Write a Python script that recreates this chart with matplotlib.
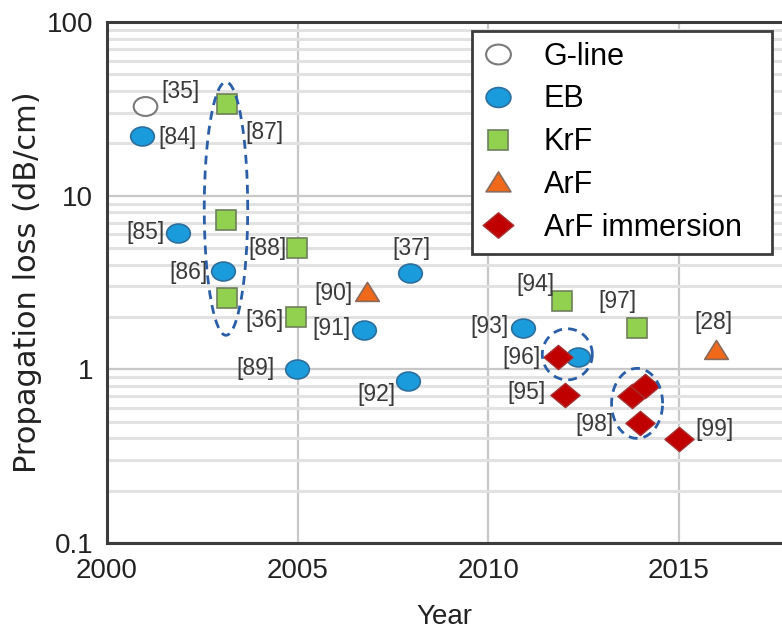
# propagation loss vs year, markers grouped by lithography type

import numpy as np
import matplotlib.pyplot as plt
from matplotlib.path import Path
from matplotlib.ticker import FixedLocator, FixedFormatter, LogLocator, NullFormatter

# values
gline_year = [2001.0]
gline_loss = [32.7]
gline_ref = ["[35]"]

eb_year = [2000.92, 2001.86, 2003.04, 2004.98, 2006.74, 2007.95, 2007.9, 2010.91, 2012.35]
eb_loss = [22.0, 6.1, 3.66, 1.01, 1.69, 3.6, 0.86, 1.74, 1.17]
eb_ref = ["[84]", "[85]", "[86]", "[89]", "[91]", "[37]", "[92]", "[93]", ""]

krf_year = [2003.15, 2003.12, 2003.15, 2004.98, 2004.96, 2011.93, 2013.9]
krf_loss = [33.6, 7.2, 2.59, 4.97, 2.01, 2.46, 1.74]
krf_ref = ["[87]", "", "", "[88]", "[36]", "[94]", "[97]"]

arf_year = [2006.82, 2015.97]
arf_loss = [2.77, 1.30]
arf_ref = ["[90]", "[28]"]

imm_year = [2011.83, 2012.01, 2013.77, 2014.11, 2013.98, 2015.0]
imm_loss = [1.18, 0.713, 0.705, 0.804, 0.492, 0.398]
imm_ref = ["[96]", "[95]", "", "", "[98]", "[99]"]

y_ticks = [0.1, 1, 10, 100]
y_ticklabels = ["0.1", "1", "10", "100"]
x_ticks = [2000, 2005, 2010, 2015]

# label offsets in pixels (right, down) from the marker
label_offset = {
    "[35]": (35, -15), "[84]": (35, 1), "[87]": (37, 28), "[85]": (-32, 0),
    "[88]": (-29, 0), "[86]": (-34, 1), "[90]": (-34, 1), "[36]": (-32, 4),
    "[91]": (-33, -1), "[89]": (-41, 0), "[92]": (-32, 14), "[37]": (1, -24),
    "[93]": (-34, -1), "[94]": (-27, -17), "[97]": (-20, -26), "[28]": (-3, -27),
    "[96]": (-37, 1), "[95]": (-39, -2), "[98]": (-46, 2), "[99]": (35, -9),
}

# dashed rings: centre year, half width (years), centre log10, half height (decades)
rings = [(2003.12, 0.57, 0.925, 0.729),
         (2012.07, 0.656, 0.0865, 0.147),
         (2013.9, 0.669, -0.196, 0.2017)]

plt.rcParams["font.family"] = ["Liberation Sans", "DejaVu Sans"]

circ = Path.unit_circle()
ell_marker = Path(circ.vertices * [1.0, 0.8], circ.codes)
dia_marker = Path([(0, 1), (1.2, 0), (0, -1), (-1.2, 0), (0, 1)],
                  [Path.MOVETO, Path.LINETO, Path.LINETO, Path.LINETO, Path.CLOSEPOLY])
tri_marker = Path([(0, 0.85), (-1, -0.75), (1, -0.75), (0, 0.85)],
                  [Path.MOVETO, Path.LINETO, Path.LINETO, Path.CLOSEPOLY])

fig = plt.figure(figsize=(7.82, 6.32), dpi=100)
ax = fig.add_axes([107 / 782, 1 - 543 / 632, 675 / 782, 521 / 632])

series = [
    (gline_year, gline_loss, gline_ref, "G-line", dict(marker=ell_marker, ms=17, mfc="white", mec="#7a7a7a", mew=1.5)),
    (eb_year, eb_loss, eb_ref, "EB", dict(marker=ell_marker, ms=17, mfc="#1a9bdc", mec="#2c6f9c", mew=1.2)),
    (krf_year, krf_loss, krf_ref, "KrF", dict(marker="s", ms=14, mfc="#92d050", mec="#6e7f5c", mew=1.2)),
    (arf_year, arf_loss, arf_ref, "ArF", dict(marker=tri_marker, ms=17, mfc="#f0681a", mec="#8a6a5a", mew=1.2)),
    (imm_year, imm_loss, imm_ref, "ArF immersion", dict(marker=dia_marker, ms=21, mfc="#c00000", mec="#a83030", mew=1.0)),
]

for xs, ys, refs, name, style in series:
    ax.plot(xs, ys, ls="none", label=name, zorder=3, **style)
    for x, y, r in zip(xs, ys, refs):
        if not r:
            continue
        dx, dy = label_offset[r]
        ax.annotate(r, (x, y), xytext=(dx * 0.72, -dy * 0.72), textcoords="offset points",
                    ha="center", va="center", fontsize=16.5, color="#3a3a3a", zorder=4)

t = np.linspace(0, 2 * np.pi, 200)
for cx, hw, cl, hl in rings:
    ax.plot(cx + hw * np.cos(t), 10 ** (cl + hl * np.sin(t)), ls=(0, (3.2, 2.2)),
            color="#2a5ea8", lw=2.0, zorder=5)

ax.set_yscale("log")
ax.set_xlim(2000, 2017.7)
ax.set_ylim(0.1, 100)
ax.yaxis.set_major_locator(FixedLocator(y_ticks))
ax.yaxis.set_major_formatter(FixedFormatter(y_ticklabels))
ax.yaxis.set_minor_locator(LogLocator(base=10, subs=np.arange(2, 10)))
ax.yaxis.set_minor_formatter(NullFormatter())
ax.set_xticks(x_ticks)
ax.tick_params(which="both", length=0, labelsize=20, colors="#222222")
ax.tick_params(axis="x", pad=11)
ax.tick_params(axis="y", pad=10)

ax.grid(True, which="major", color="#c8c8c8", lw=1.6)
ax.grid(True, which="minor", axis="y", color="#e2e2e2", lw=2.2)
ax.set_axisbelow(True)

for side in ["left", "bottom", "top"]:
    ax.spines[side].set_color("#3c3c3c")
    ax.spines[side].set_linewidth(2.2)
ax.spines["right"].set_visible(False)

ax.set_xlabel("Year", fontsize=20, color="#222222", labelpad=14)
ax.set_ylabel("Propagation loss (dB/cm)", fontsize=22, color="#222222",
              family=["DejaVu Sans"])
ax.yaxis.set_label_coords(-0.097, 0.5)

leg = ax.legend(loc="upper left", bbox_to_anchor=(0.541, 0.983, 0.444, 0.0), mode="expand",
                borderaxespad=0, fontsize=22, frameon=True, fancybox=False, framealpha=1,
                handlelength=1.0, handletextpad=1.0, labelspacing=0.42, borderpad=0.35,
                numpoints=1, markerscale=1.05)
leg.get_frame().set_edgecolor("#3c3c3c")
leg.get_frame().set_linewidth(2.0)
leg.set_zorder(6)

fig.savefig("out.png", dpi=100)
